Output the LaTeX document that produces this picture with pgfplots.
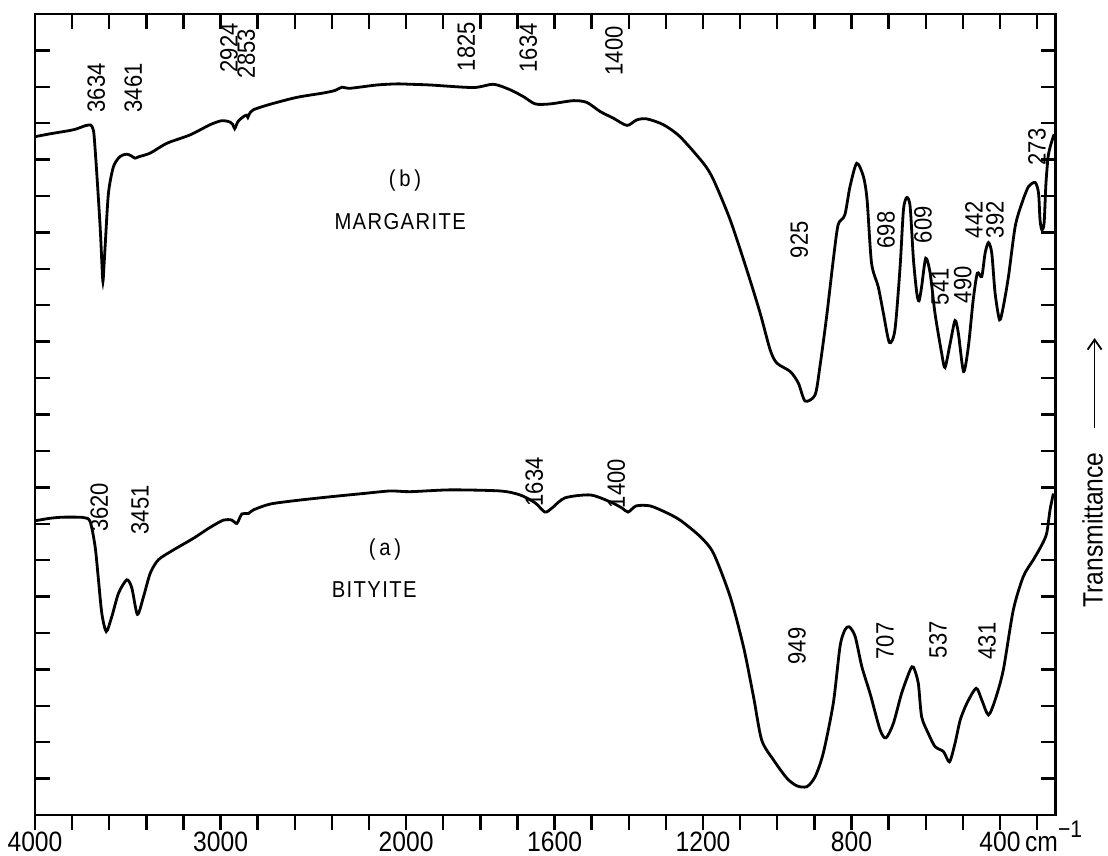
\documentclass[border=0pt]{standalone}
\usepackage{fontspec}
\setmainfont{Liberation Sans}[FakeStretch=0.88]
\newfontfamily\spaced{Liberation Sans}[FakeStretch=0.88,LetterSpace=6]
\usepackage{pgfplots}
\pgfplotsset{compat=1.18}
\usepackage{pgfplotstable}
\usetikzlibrary{arrows.meta}

\pgfplotstableread{
nu T
4000 18.63
3918 18.71
3793 18.82
3730 18.93
3700 18.95
3688 18.85
3681 18.63
3666 17.54
3649 16.16
3640 15.2
3634 14.65
3628 15.1
3620 15.80
3604 17.09
3577 17.81
3541 18.09
3505 18.15
3480 18.10
3461 18.04
3440 18.08
3379 18.18
3289 18.45
3164 18.68
3056 18.96
2993 19.07
2948 19.03
2935 18.97
2924 18.85
2915 18.95
2904 19.06
2877 19.18
2860 19.22
2853 19.16
2845 19.25
2823 19.37
2733 19.52
2589 19.71
2446 19.83
2383 19.90
2346 19.99
2302 19.96
2158 20.05
2050 20.08
1989 20.07
1935 20.05
1819 19.98
1765 20.07
1720 19.92
1684 19.73
1652 19.53
1612 19.53
1549 19.62
1513 19.57
1477 19.32
1442 19.14
1405 18.94
1379 19.09
1352 19.12
1307 18.96
1262 18.63
1199 17.90
1172 17.45
1127 16.35
1082 14.97
1046 13.78
1019 12.77
1001 12.41
965 12.18
943 11.86
925 11.37
898 11.54
885 12.32
867 13.69
849 15.25
836 16.21
818 16.48
804 17.26
786 17.90
768 17.54
758 16.90
746 15.16
728 14.51
714 13.78
698 12.98
683 13.32
669 15.06
660 16.62
651 16.96
642 16.71
633 15.25
624 14.33
618 14.12
611 14.51
600 15.29
588 14.88
575 13.78
557 12.68
548 12.29
534 12.96
521 13.58
512 13.23
498 12.18
485 12.87
472 14.15
461 14.88
449 14.79
440 15.43
431 15.72
422 15.43
413 14.33
401 13.60
391 13.96
377 14.79
359 16.16
341 16.80
323 17.26
305 17.37
296 17.08
292 16.35
287 16.07
281 16.26
276 17.35
270 18.09
263 18.41
254 18.7
}\margarite

\pgfplotstableread{
nu T
4000 8.08
3918 8.15
3846 8.18
3739 8.17
3703 8.06
3676 7.37
3658 6.46
3640 5.54
3616 5.04
3586 5.45
3550 6.09
3505 6.46
3478 6.23
3448 5.51
3415 6.00
3379 6.64
3335 7.01
3254 7.28
3146 7.60
3056 7.90
2984 8.10
2939 8.10
2912 8.01
2885 8.27
2850 8.28
2823 8.38
2733 8.54
2589 8.64
2409 8.74
2230 8.83
2086 8.90
1989 8.88
1881 8.93
1747 8.90
1693 8.79
1652 8.57
1626 8.32
1607 8.43
1572 8.71
1504 8.79
1450 8.60
1418 8.43
1402 8.32
1380 8.49
1343 8.49
1302 8.32
1262 8.10
1208 7.65
1172 7.19
1127 6.00
1091 4.62
1064 3.25
1042 2.06
1010 1.51
974 1.01
947 0.80
920 0.78
898 1.05
876 1.70
849 3.07
831 4.62
818 5.08
806 5.17
790 4.90
772 4.07
750 3.34
723 2.34
707 2.12
687 2.52
665 3.34
642 3.98
633 4.06
620 3.62
611 2.70
593 2.24
575 1.88
552 1.74
536 1.46
521 1.97
507 2.61
489 3.07
464 3.48
449 3.16
431 2.75
413 3.16
391 3.98
364 5.63
337 6.55
310 7.01
287 7.42
274 7.74
265 8.38
256 8.83
}\bityite

\begin{document}
\begin{tikzpicture}
\useasboundingbox (-17.5pt,-20.5pt) rectangle (536.5pt,407.5pt);
\pgfplotsset{
  common/.style={
    scale only axis, width=510.3pt, height=400.5pt,
    at={(0pt,0pt)}, anchor=south west,
    xmin=0, xmax=27.5, ymin=0, ymax=22,
    axis line style={line width=1.3pt},
    major tick length=7.5pt,
    every tick/.style={line width=1.2pt, black},
  },
}
\tikzset{pk/.style={rotate=90, font=\fontsize{12.5}{12.5}\selectfont, inner sep=0pt}}
\begin{axis}[common, clip=false,
  xtick={0,...,27}, xticklabels={}, xtick pos=right,
  ytick={1,...,21}, yticklabels={}, ytick pos=both,
  tick align=inside]
  \addplot[black, line width=1.4pt, smooth, tension=0.45]
    table[x expr={\thisrow{nu}>2000 ? (4000-\thisrow{nu})/200 : 10+(2000-\thisrow{nu})/100}, y=T]{\margarite};
  \addplot[black, line width=1.4pt, smooth, tension=0.45]
    table[x expr={\thisrow{nu}>2000 ? (4000-\thisrow{nu})/200 : 10+(2000-\thisrow{nu})/100}, y=T]{\bityite};
  % peak labels, curve b
  \node[pk] at (axis cs:1.65,19.97) {3634};
  \node[pk] at (axis cs:2.65,19.97) {3461};
  \node[pk] at (axis cs:5.23,21.07) {2924};
  \node[pk] at (axis cs:5.69,20.91) {2853};
  \node[pk] at (axis cs:11.62,21.10) {1825};
  \node[pk] at (axis cs:13.29,21.07) {1634};
  \node[pk] at (axis cs:15.60,20.99) {1400};
  \node[pk] at (axis cs:20.59,15.80) {925};
  \node[pk] at (axis cs:22.93,16.07) {698};
  \node[pk] at (axis cs:23.93,16.21) {609};
  \node[pk] at (axis cs:24.39,14.51) {541};
  \node[pk] at (axis cs:25.00,14.56) {490};
  \node[pk] at (axis cs:25.30,16.35) {442};
  \node[pk] at (axis cs:25.87,16.35) {392};
  \node[pk] at (axis cs:27.00,18.35) {273};
  % peak labels, curve a
  \node[pk] at (axis cs:1.73,8.45) {3620};
  \node[pk] at (axis cs:2.83,8.38) {3451};
  \node[pk] at (axis cs:13.45,9.15) {1634};
  \node[pk] at (axis cs:15.66,9.10) {1400};
  \node[pk] at (axis cs:20.53,4.64) {949};
  \node[pk] at (axis cs:22.90,4.78) {707};
  \node[pk] at (axis cs:24.33,4.81) {537};
  \node[pk] at (axis cs:25.65,4.78) {431};
  % names
  \node[font={\spaced\fontsize{11.5}{12}\selectfont}] at (axis cs:9.97,17.42) {(\,b\,)};
  \node[font={\spaced\fontsize{11.5}{12}\selectfont}] at (axis cs:9.84,16.29) {MARGARITE};
  \node[font={\spaced\fontsize{11.5}{12}\selectfont}] at (axis cs:9.43,7.28) {(\,a\,)};
  \node[font={\spaced\fontsize{11.5}{12}\selectfont}] at (axis cs:9.14,6.18) {BITYITE};
  % transmittance
  \node[rotate=90, font=\fontsize{14}{14}\selectfont, inner sep=0pt] at (axis cs:28.50,7.83) {Transmittance};
  \draw[-{Straight Barb[length=5pt,width=7pt]}, line width=0.9pt] (axis cs:28.55,10.63) -- (axis cs:28.55,13.1);
\end{axis}
\begin{axis}[common,
  xtick={0,...,27},
  xticklabels={4000,,,,,3000,,,,,2000,,,,1600,,,,1200,,,,800,,,,400\rlap{\,cm\smash{\raisebox{1.0ex}{\fontsize{12}{12}\selectfont −1}}},},
  xtick pos=left, tick align=outside,
  xticklabel style={font=\fontsize{14}{14}\selectfont, inner sep=1pt},
  ytick=\empty]
\end{axis}
\end{tikzpicture}
\end{document}
